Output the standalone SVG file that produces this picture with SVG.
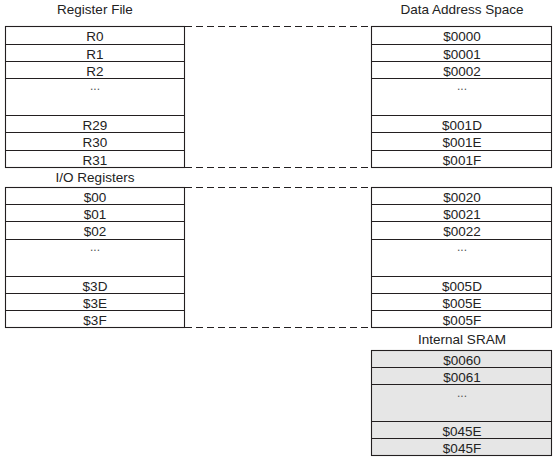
<svg xmlns="http://www.w3.org/2000/svg" width="557" height="465" viewBox="0 0 557 465">
<style>
text{font-family:"Liberation Sans",Arial,sans-serif;font-size:13.5px;fill:#222;text-anchor:middle}
.dots{font-size:12px;fill:#555}
.box{fill:#fff;stroke:#231f20;stroke-width:1.1}
.sram{fill:#e6e6e6;stroke:#231f20;stroke-width:1.1}
.div{stroke:#231f20;stroke-width:1.1}
.dash{stroke:#231f20;stroke-width:1.1;stroke-dasharray:7 4;fill:none}
</style>
<rect width="557" height="465" fill="#fff"/>
<g id="titles">
<text x="95" y="14">Register File</text>
<text x="462" y="14">Data Address Space</text>
<text x="95" y="182">I/O Registers</text>
<text x="462" y="344">Internal SRAM</text>
</g>
<g id="connectors">
<line class="dash" x1="185" y1="26.5" x2="371.5" y2="26.5"/>
<line class="dash" x1="185" y1="167.5" x2="371.5" y2="167.5"/>
<line class="dash" x1="185" y1="187.5" x2="371.5" y2="187.5"/>
<line class="dash" x1="185" y1="327.5" x2="371.5" y2="327.5"/>
</g>
<g id="register-file">
<rect class="box" x="5.5" y="26.5" width="179" height="141"/>
<path class="div" d="M5.5 44.5H184.5M5.5 61.5H184.5M5.5 78.5H184.5M5.5 115.5H184.5M5.5 132.5H184.5M5.5 150.5H184.5"/>
<text x="95" y="41">R0</text>
<text x="95" y="58.5">R1</text>
<text x="95" y="75.5">R2</text>
<text class="dots" x="95" y="89.5">...</text>
<text x="95" y="129.5">R29</text>
<text x="95" y="147">R30</text>
<text x="95" y="164.5">R31</text>
</g>
<g id="data-space-registers">
<rect class="box" x="371.5" y="26.5" width="180" height="141"/>
<path class="div" d="M371.5 44.5H551.5M371.5 61.5H551.5M371.5 78.5H551.5M371.5 115.5H551.5M371.5 132.5H551.5M371.5 150.5H551.5"/>
<text x="462" y="41">$0000</text>
<text x="462" y="58.5">$0001</text>
<text x="462" y="75.5">$0002</text>
<text class="dots" x="462" y="89.5">...</text>
<text x="462" y="129.5">$001D</text>
<text x="462" y="147">$001E</text>
<text x="462" y="164.5">$001F</text>
</g>
<g id="io-registers">
<rect class="box" x="5.5" y="187.5" width="179" height="140"/>
<path class="div" d="M5.5 204.5H184.5M5.5 221.5H184.5M5.5 239.5H184.5M5.5 276.5H184.5M5.5 293.5H184.5M5.5 310.5H184.5"/>
<text x="95" y="201.5">$00</text>
<text x="95" y="218.5">$01</text>
<text x="95" y="236">$02</text>
<text class="dots" x="95" y="250.5">...</text>
<text x="95" y="290.5">$3D</text>
<text x="95" y="307.5">$3E</text>
<text x="95" y="324.5">$3F</text>
</g>
<g id="data-space-io">
<rect class="box" x="371.5" y="187.5" width="180" height="140"/>
<path class="div" d="M371.5 204.5H551.5M371.5 221.5H551.5M371.5 239.5H551.5M371.5 276.5H551.5M371.5 293.5H551.5M371.5 310.5H551.5"/>
<text x="462" y="201.5">$0020</text>
<text x="462" y="218.5">$0021</text>
<text x="462" y="236">$0022</text>
<text class="dots" x="462" y="250.5">...</text>
<text x="462" y="290.5">$005D</text>
<text x="462" y="307.5">$005E</text>
<text x="462" y="324.5">$005F</text>
</g>
<g id="internal-sram">
<rect class="sram" x="371.5" y="350.5" width="180" height="105"/>
<path class="div" d="M371.5 367.5H551.5M371.5 384.5H551.5M371.5 421.5H551.5M371.5 438.5H551.5"/>
<text x="462" y="364.5">$0060</text>
<text x="462" y="381.5">$0061</text>
<text class="dots" x="462" y="396.5">...</text>
<text x="462" y="435.5">$045E</text>
<text x="462" y="452.5">$045F</text>
</g>
</svg>
